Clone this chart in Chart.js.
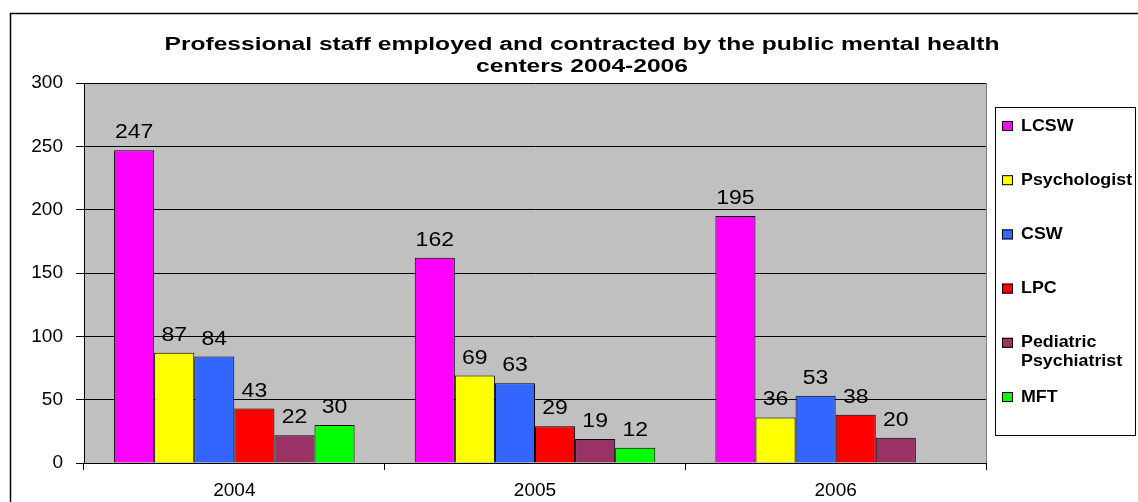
<!DOCTYPE html>
<html>
<head>
<meta charset="utf-8">
<title>Professional staff 2004-2006</title>
<script src="https://cdn.jsdelivr.net/npm/chart.js@4.4.1/dist/chart.umd.min.js"></script>
<style>
    html, body { margin: 0; padding: 0; background: #fff; }
    #chart-wrap { width: 1138px; height: 502px; position: relative; }
</style>
</head>
<body>
<div id="chart-wrap"><canvas id="chart-staff" width="1138" height="502"></canvas></div>
<script>
const years = ['2004', '2005', '2006'];
const lcsw = [247, 162, 195];
const psychologist = [87, 69, 36];
const csw = [84, 63, 53];
const lpc = [43, 29, 38];
const pediatricPsychiatrist = [22, 19, 20];
const mft = [30, 12, null];
const yTicks = [0, 50, 100, 150, 200, 250, 300];
const titleLines = ['Professional staff employed and contracted by the public mental health', 'centers 2004-2006'];

const ctx = document.getElementById('chart-staff');
const FONT = "'Liberation Sans', Arial, sans-serif";

// gray plot background, outer frame and title
const backdrop = {
    id: 'backdrop',
    beforeDraw(chart) {
        const c = chart.ctx;
        const a = chart.chartArea;
        c.save();
        c.fillStyle = '#ffffff';
        c.fillRect(0, 0, chart.width, chart.height);
        c.strokeStyle = '#000';
        c.lineWidth = 1.5;
        c.strokeRect(10.5, 13.5, chart.width + 20, chart.height + 20);
        c.fillStyle = '#c0c0c0';
        c.fillRect(a.left, a.top, a.right - a.left, a.bottom - a.top);
        c.strokeStyle = '#808080';
        c.lineWidth = 1;
        c.beginPath();
        c.moveTo(a.right + 0.5, a.top);
        c.lineTo(a.right + 0.5, a.bottom);
        c.stroke();

        // title is stretched so the first line spans about 835px
        c.fillStyle = '#000';
        c.font = 'bold 18px ' + FONT;
        c.textAlign = 'center';
        c.textBaseline = 'middle';
        const sx = 835 / c.measureText(titleLines[0]).width;
        titleLines.forEach(function (t, i) {
            c.save();
            c.translate(582, 45 + i * 22);
            c.scale(sx, 1.05);
            c.fillText(t, 0, 0);
            c.restore();
        });
        c.restore();
    }
};

// value labels above each bar
const barValues = {
    id: 'barValues',
    afterDatasetsDraw(chart) {
        const c = chart.ctx;
        c.save();
        c.fillStyle = '#000';
        c.font = '20px ' + FONT;
        c.textAlign = 'center';
        c.textBaseline = 'alphabetic';
        chart.data.datasets.forEach(function (ds, i) {
            chart.getDatasetMeta(i).data.forEach(function (bar, j) {
                const v = ds.data[j];
                if (v === null || v === undefined) return;
                c.save();
                c.translate(bar.x, bar.y - 12);
                c.scale(1.15, 1);
                c.fillText(String(v), 0, 0);
                c.restore();
            });
        });
        c.restore();
    }
};

// boxed legend on the right
const boxLegend = {
    id: 'boxLegend',
    afterDraw(chart) {
        const c = chart.ctx;
        c.save();
        c.strokeStyle = '#000';
        c.lineWidth = 1;
        c.strokeRect(995.5, 107.5, 140, 328);
        c.font = 'bold 17px ' + FONT;
        c.textBaseline = 'middle';
        c.textAlign = 'left';
        chart.data.datasets.forEach(function (ds, i) {
            const y = 126 + i * 54.2;
            c.fillStyle = ds.backgroundColor;
            c.fillRect(1002, y - 5, 11, 10);
            c.strokeStyle = '#000';
            c.strokeRect(1002.5, y - 4.5, 10, 9);
            c.fillStyle = '#000';
            // the long label wraps onto two lines
            const lines = ds.label.indexOf('Pediatric') === 0 ? ds.label.split(' ') : [ds.label];
            lines.forEach(function (w, k) {
                c.save();
                c.translate(1021, y + k * 19);
                c.scale(1.05, 1);
                c.fillText(w, 0, 0);
                c.restore();
            });
        });
        c.restore();
    }
};

function bar(label, data, color) {
    return {
        label: label,
        data: data,
        backgroundColor: color,
        borderColor: '#000',
        borderWidth: 1,
        categoryPercentage: 0.8,
        barPercentage: 1.0
    };
}

new Chart(ctx, {
    type: 'bar',
    data: {
        labels: years,
        datasets: [
            bar('LCSW', lcsw, '#ff00ff'),
            bar('Psychologist', psychologist, '#ffff00'),
            bar('CSW', csw, '#3366ff'),
            bar('LPC', lpc, '#ff0000'),
            bar('Pediatric Psychiatrist', pediatricPsychiatrist, '#993366'),
            bar('MFT', mft, '#00ff00')
        ]
    },
    options: {
        responsive: false,
        animation: false,
        layout: {
            padding: { left: 0, right: 152, top: 83, bottom: 0 }
        },
        plugins: {
            legend: { display: false },
            title: { display: false },
            tooltip: { enabled: false }
        },
        scales: {
            x: {
                offset: true,
                grid: {
                    offset: true,
                    drawOnChartArea: false,
                    drawTicks: true,
                    tickLength: 7,
                    color: '#000'
                },
                border: { color: '#000', width: 1 },
                ticks: {
                    color: '#000',
                    padding: 9,
                    font: { family: FONT, size: 19 }
                },
                afterFit: function (scale) {
                    scale.height = 39;
                }
            },
            y: {
                min: 0,
                max: 300,
                afterBuildTicks: function (scale) {
                    scale.ticks = yTicks.map(function (v) { return { value: v }; });
                },
                grid: {
                    color: '#000',
                    lineWidth: 1,
                    drawTicks: true,
                    tickLength: 8
                },
                border: { color: '#000', width: 1 },
                ticks: {
                    color: '#000',
                    padding: 13,
                    font: { family: FONT, size: 19 }
                },
                afterFit: function (scale) {
                    scale.width = 84;
                }
            }
        }
    },
    plugins: [backdrop, barValues, boxLegend]
});
</script>
</body>
</html>
